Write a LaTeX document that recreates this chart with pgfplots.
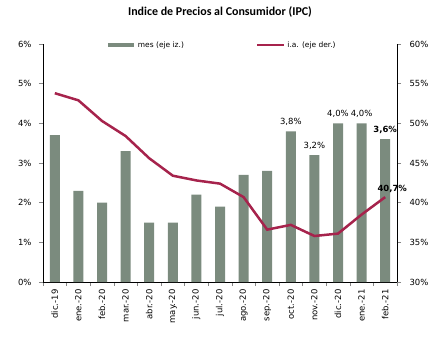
\documentclass[border=0pt]{standalone}
\usepackage{pgfplots}
\pgfplotsset{compat=1.18}
\usepackage{fontspec}
\setmainfont{DejaVu Sans}
\newfontfamily\titlefont{Carlito}
\definecolor{barc}{HTML}{7B8B7E}
\definecolor{linec}{HTML}{A6234C}
\definecolor{axc}{HTML}{868686}
\begin{document}
\begin{tikzpicture}
\pgfplotsset{
 common/.style={
  scale only axis, width=354bp, height=238bp, at={(0,0)}, anchor=south west,
  xmin=-0.5, xmax=14.5, clip=false,
  tick label style={font=\fontsize{8.5}{10}\selectfont, color=black},
  /pgf/number format/assume math mode=true,
  every axis line/.style={draw=axc, line width=0.6pt},
  tick align=outside, major tick length=4bp, minor tick length=4bp,
  every tick/.style={draw=axc, line width=0.6pt},
 }
}
\begin{axis}[common, name=ax,
  axis y line*=left, axis x line*=bottom,
  ymin=0, ymax=6, ytick={0,...,6},
  yticklabel={\pgfmathprintnumber{\tick}\%},
  y tick label style={xshift=-4bp},
  xtick={0,...,14},
  xticklabels={dic.-19,ene.-20,feb.-20,mar.-20,abr.-20,may.-20,jun.-20,jul.-20,ago.-20,sep.-20,oct.-20,nov.-20,dic.-20,ene.-21,feb.-21},
  x tick label style={rotate=90, anchor=east},
  major x tick style={draw=none},
  minor xtick={-0.5,0.5,...,14.5},
  title={\titlefont\bfseries\fontsize{12}{14}\selectfont Indice de Precios al Consumidor (IPC)},
  title style={at={(0.5,1)}, anchor=center, yshift=26bp},
  legend style={at={(0.505,0.996)}, anchor=center, draw=none, fill=none,
    font=\fontsize{7.5}{9}\selectfont, legend columns=2,
    /tikz/every even column/.append style={column sep=70bp}},
  legend cell align=left,
]
\addplot[ybar, bar width=10bp, fill=barc, draw=none, forget plot] coordinates {
 (0,3.7) (1,2.3) (2,2.0) (3,3.3) (4,1.5) (5,1.5) (6,2.2) (7,1.9)
 (8,2.7) (9,2.8) (10,3.8) (11,3.2) (12,4.0) (13,4.0) (14,3.6)};
\addplot[draw=none, mark=none, forget plot, point meta=y,
  nodes near coords={\pgfmathprintnumber[fixed,fixed zerofill,precision=1,use comma]{\pgfplotspointmeta}\%},
  every node near coord/.style={font=\fontsize{8.5}{10}\selectfont, anchor=south, yshift=2bp}]
 coordinates {(10,3.8) (11,3.2) (12,4.0) (13,4.0)};
\addplot[draw=none, mark=none, forget plot, point meta=y,
  nodes near coords={\pgfmathprintnumber[fixed,fixed zerofill,precision=1,use comma]{\pgfplotspointmeta}\%},
  every node near coord/.style={font=\bfseries\fontsize{8.5}{10}\selectfont, anchor=south, yshift=2bp}]
 coordinates {(14,3.6)};
\addlegendimage{legend image code/.code={\draw[barc, line width=4bp] (0,0) -- (26bp,0);}}
\addlegendentry{mes (eje iz.)}
\addlegendimage{legend image code/.code={\draw[linec, line width=2.5bp] (0,0) -- (27bp,0);}}
\addlegendentry{i.a. (eje der.)}
\end{axis}
\begin{axis}[common,
  axis y line*=right, axis x line=none,
  ymin=30, ymax=60, ytick={30,35,...,60},
  yticklabel={\pgfmathprintnumber{\tick}\%},
  y tick label style={xshift=5bp},
]
\addplot[linec, line width=2.5bp, mark=none] coordinates {
 (0,53.8) (1,52.9) (2,50.3) (3,48.4) (4,45.6) (5,43.4) (6,42.8) (7,42.4)
 (8,40.7) (9,36.6) (10,37.2) (11,35.8) (12,36.1) (13,38.5) (14,40.7)};
\addplot[draw=none, mark=none, point meta=y,
  nodes near coords={\pgfmathprintnumber[fixed,fixed zerofill,precision=1,use comma]{\pgfplotspointmeta}\%},
  every node near coord/.style={font=\bfseries\fontsize{8.5}{10}\selectfont, anchor=south, xshift=7bp, yshift=1bp}]
 coordinates {(14,40.7)};
\end{axis}
\pgfresetboundingbox
\path ([xshift=-43bp,yshift=-55bp]ax.south west) rectangle ([xshift=46bp,yshift=44bp]ax.north east);
\end{tikzpicture}
\end{document}
